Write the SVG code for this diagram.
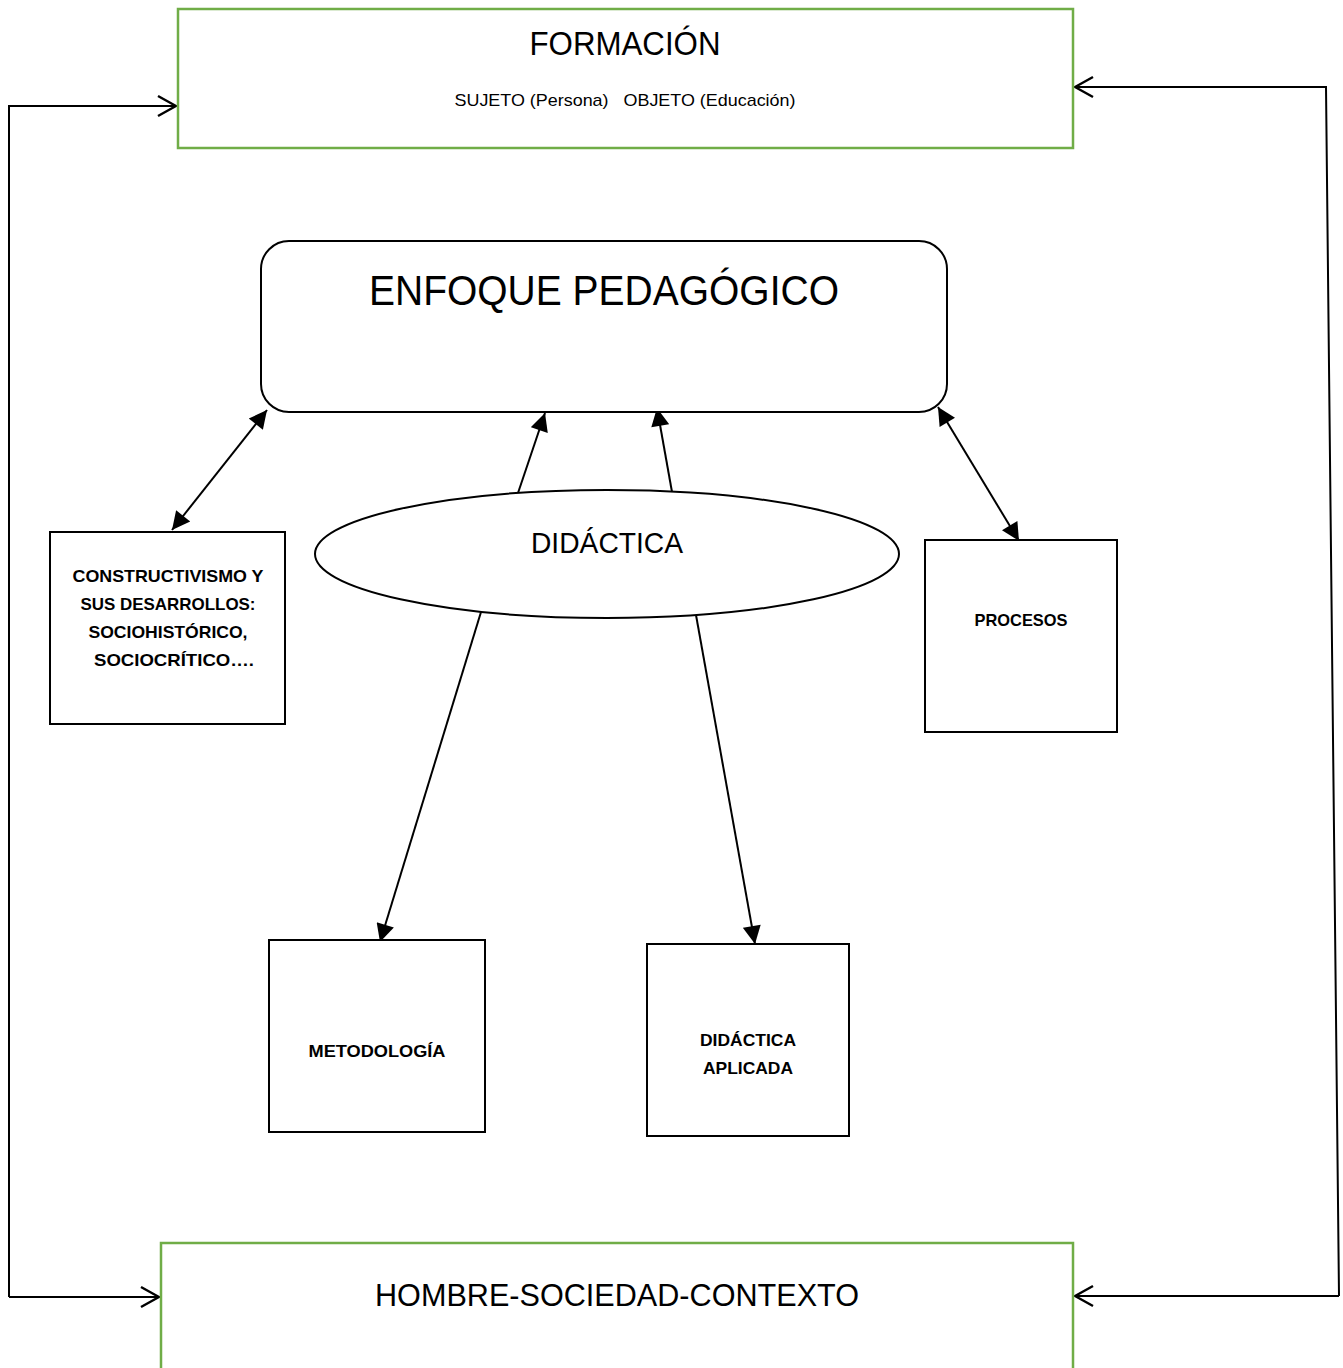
<svg xmlns="http://www.w3.org/2000/svg" width="1343" height="1368" viewBox="0 0 1343 1368">
  <defs>
    <style>
      .green { fill: #ffffff; stroke: #70ad47; stroke-width: 2.5; }
      .box { fill: #ffffff; stroke: #000000; stroke-width: 2; }
      .line { fill: none; stroke: #000000; stroke-width: 2; }
      .frame { fill: none; stroke: #000000; stroke-width: 2; }
      .t { font-family: "Liberation Sans", Arial, sans-serif; fill: #000000; text-anchor: middle; }
      .b { font-family: "Liberation Sans", Arial, sans-serif; font-weight: bold; font-size: 17px; fill: #000000; text-anchor: middle; }
    </style>
    <marker id="solidBig" viewBox="0 0 10 10" refX="10" refY="5" markerWidth="20" markerHeight="18" markerUnits="userSpaceOnUse" orient="auto-start-reverse">
      <path d="M0,0 L10,5 L0,10 Z" fill="#000000"/>
    </marker>
    <marker id="open" viewBox="0 0 20 24" refX="19" refY="12" markerWidth="20" markerHeight="24" markerUnits="userSpaceOnUse" orient="auto">
      <path d="M1,2 L19,12 L1,22" fill="none" stroke="#000000" stroke-width="2.5"/>
    </marker>
  </defs>

  <rect width="1343" height="1368" fill="#ffffff"/>

  <!-- connectors -->
  <g id="connectors">
    <!-- outer feedback frame -->
    <polyline class="frame" points="9,1297 9,106 176,106" marker-end="url(#open)"/>
    <polyline class="frame" points="9,1297 159,1297" marker-end="url(#open)"/>
    <polyline class="frame" points="1339,1296 1326,87 1075,87" marker-end="url(#open)"/>
    <polyline class="frame" points="1339,1296 1075,1296" marker-end="url(#open)"/>
    <!-- links around the pedagogical approach -->
    <line class="line" x1="172" y1="530" x2="267" y2="410" marker-start="url(#solidBig)" marker-end="url(#solidBig)"/>
    <line class="line" x1="938" y1="407" x2="1019" y2="541" marker-start="url(#solidBig)" marker-end="url(#solidBig)"/>
    <line class="line" x1="518" y1="493" x2="545" y2="413" marker-end="url(#solidBig)"/>
    <line class="line" x1="672" y1="492" x2="657" y2="408" marker-end="url(#solidBig)"/>
    <line class="line" x1="481" y1="612" x2="380" y2="942" marker-end="url(#solidBig)"/>
    <line class="line" x1="696" y1="615" x2="755" y2="944" marker-end="url(#solidBig)"/>
  </g>

  <g id="formacion">
    <rect class="green" x="178" y="9" width="895" height="139"/>
    <text class="t" x="625" y="55" font-size="33" textLength="191" lengthAdjust="spacingAndGlyphs">FORMACIÓN</text>
    <text class="t" x="625" y="106" font-size="17" textLength="341" lengthAdjust="spacingAndGlyphs" xml:space="preserve">SUJETO (Persona)   OBJETO (Educación)</text>
  </g>

  <g id="enfoque">
    <rect class="box" x="261" y="241" width="686" height="171" rx="28" ry="28"/>
    <text class="t" x="604" y="305" font-size="42" textLength="470" lengthAdjust="spacingAndGlyphs">ENFOQUE PEDAGÓGICO</text>
  </g>

  <g id="didactica">
    <ellipse class="box" cx="607" cy="554" rx="292" ry="64"/>
    <text class="t" x="607" y="553" font-size="29" textLength="152" lengthAdjust="spacingAndGlyphs">DIDÁCTICA</text>
  </g>

  <g id="constructivismo">
    <rect class="box" x="50" y="532" width="235" height="192"/>
    <text class="b" x="168" y="582" textLength="191" lengthAdjust="spacingAndGlyphs">CONSTRUCTIVISMO Y</text>
    <text class="b" x="168" y="610" textLength="175" lengthAdjust="spacingAndGlyphs">SUS DESARROLLOS:</text>
    <text class="b" x="168" y="638" textLength="159" lengthAdjust="spacingAndGlyphs">SOCIOHISTÓRICO,</text>
    <text class="b" x="174" y="666" textLength="160" lengthAdjust="spacingAndGlyphs">SOCIOCRÍTICO….</text>
  </g>

  <g id="procesos">
    <rect class="box" x="925" y="540" width="192" height="192"/>
    <text class="b" x="1021" y="626" textLength="93" lengthAdjust="spacingAndGlyphs">PROCESOS</text>
  </g>

  <g id="metodologia">
    <rect class="box" x="269" y="940" width="216" height="192"/>
    <text class="b" x="377" y="1057" textLength="137" lengthAdjust="spacingAndGlyphs">METODOLOGÍA</text>
  </g>

  <g id="didactica-aplicada">
    <rect class="box" x="647" y="944" width="202" height="192"/>
    <text class="b" x="748" y="1046" textLength="96" lengthAdjust="spacingAndGlyphs">DIDÁCTICA</text>
    <text class="b" x="748" y="1074" textLength="90" lengthAdjust="spacingAndGlyphs">APLICADA</text>
  </g>

  <g id="hombre">
    <rect class="green" x="161" y="1243" width="912" height="130"/>
    <text class="t" x="617" y="1306" font-size="32" textLength="484" lengthAdjust="spacingAndGlyphs">HOMBRE-SOCIEDAD-CONTEXTO</text>
  </g>
</svg>
